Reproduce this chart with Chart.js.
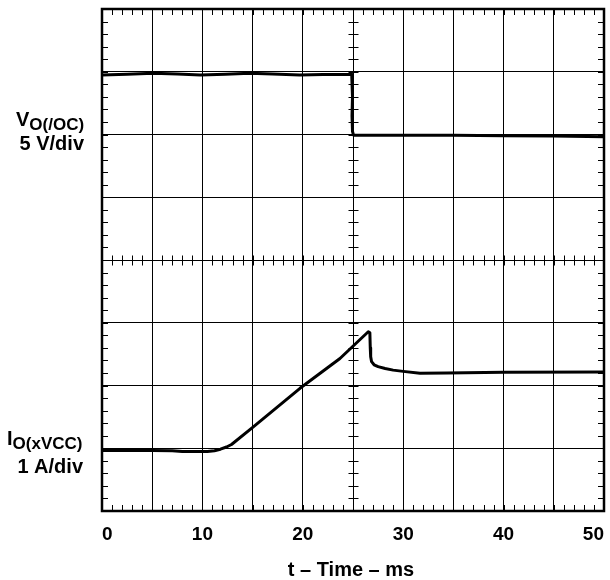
<!DOCTYPE html>
<html><head><meta charset="utf-8">
<script src="https://cdn.jsdelivr.net/npm/chart.js@4.4.1/dist/chart.umd.min.js"></script>
<style>html,body{margin:0;padding:0;background:#fff;}</style>
</head><body>
<canvas id="c" width="610" height="580"></canvas>
<script>
// x tick labels (ms)
const tickLabels = ['0', '10', '20', '30', '40', '50'];
// V_O(/OC) trace, values in screen divisions (0 = bottom, 8 = top)
const voTime = [0, 2.5, 5.1, 7.5, 9.8, 12.3, 14.7, 17, 19.7, 22, 24.6, 24.87, 24.95, 24.9, 24.95, 25.05, 26, 30, 35, 40, 45, 50];
const voDiv  = [6.95, 6.96, 6.975, 6.965, 6.948, 6.96, 6.975, 6.965, 6.95, 6.955, 6.955, 6.96, 6.6, 6.3, 6.05, 5.99, 5.99, 5.99, 5.99, 5.98, 5.975, 5.965];
// I_O(xVCC) trace, values in screen divisions
const ioTime = [0, 5, 7, 8, 10.5, 11.2, 11.8, 12.4, 12.9, 15.07, 19.72, 23.7, 26.52, 26.68, 26.72, 26.76, 26.85, 27.1, 27.5, 28.2, 29.0, 30.0, 31.67, 34.33, 40, 50];
const ioDiv  = [0.965, 0.965, 0.96, 0.95, 0.95, 0.96, 0.985, 1.02, 1.06, 1.34, 1.955, 2.43, 2.857, 2.84, 2.6, 2.46, 2.38, 2.33, 2.3, 2.27, 2.245, 2.225, 2.195, 2.2, 2.21, 2.215];

const FONT = '"Liberation Sans", Arial, sans-serif';

const toPts = (xs, ys) => xs.map((x, i) => ({x: x, y: ys[i]}));

const scopePlugin = {
  id: 'scope',
  beforeDatasetsDraw(chart) {
    const {ctx, chartArea: a, scales: {x, y}} = chart;
    ctx.save();
    ctx.strokeStyle = '#000';
    ctx.lineWidth = 1;
    const cx = Math.round(x.getPixelForValue(25)) + 0.5;
    const cy = Math.round(y.getPixelForValue(4)) + 0.5;
    ctx.beginPath();
    for (let t = 0; t <= 50; t += 1) {
      const px = Math.round(x.getPixelForValue(t)) + 0.5;
      ctx.moveTo(px, a.top); ctx.lineTo(px, a.top + 6);
      ctx.moveTo(px, a.bottom); ctx.lineTo(px, a.bottom - 6);
      ctx.moveTo(px, cy - 5); ctx.lineTo(px, cy + 5);
    }
    for (let k = 0; k <= 40; k++) {
      const py = Math.round(y.getPixelForValue(k / 5)) + 0.5;
      ctx.moveTo(a.left, py); ctx.lineTo(a.left + 6, py);
      ctx.moveTo(a.right, py); ctx.lineTo(a.right - 6, py);
      ctx.moveTo(cx - 5, py); ctx.lineTo(cx + 5, py);
    }
    ctx.stroke();
    ctx.lineWidth = 2.5;
    ctx.strokeRect(a.left, a.top, a.right - a.left, a.bottom - a.top);
    ctx.restore();
  },
  afterDraw(chart) {
    const {ctx, chartArea: a} = chart;
    ctx.save();
    ctx.fillStyle = '#000';
    ctx.textBaseline = 'alphabetic';
    // V_O(/OC)
    ctx.textAlign = 'left';
    ctx.font = 'bold 20px ' + FONT;
    ctx.fillText('V', 16, 126);
    const vw = ctx.measureText('V').width;
    ctx.font = 'bold 17px ' + FONT;
    ctx.fillText('O(/OC)', 16 + vw, 130);
    ctx.textAlign = 'right';
    ctx.font = 'bold 20px ' + FONT;
    ctx.fillText('5 V/div', 84, 150);
    // I_O(xVCC)
    ctx.textAlign = 'left';
    ctx.font = 'bold 20px ' + FONT;
    ctx.fillText('I', 7, 445);
    const iw = ctx.measureText('I').width;
    ctx.font = 'bold 17px ' + FONT;
    ctx.fillText('O(xVCC)', 7 + iw, 449);
    ctx.textAlign = 'right';
    ctx.font = 'bold 20px ' + FONT;
    ctx.fillText('1 A/div', 83, 473);
    // x title
    ctx.textAlign = 'center';
    ctx.font = 'bold 20px ' + FONT;
    ctx.fillText('t \u2013 Time \u2013 ms', (a.left + a.right) / 2 - 2, 576);
    ctx.restore();
  }
};

new Chart(document.getElementById('c'), {
  type: 'line',
  data: {
    datasets: [
      {data: toPts(voTime, voDiv), borderColor: '#000', borderWidth: 3, pointRadius: 0, tension: 0, fill: false, borderJoinStyle: 'round', borderCapStyle: 'round'},
      {data: toPts(ioTime, ioDiv), borderColor: '#000', borderWidth: 3, pointRadius: 0, tension: 0, fill: false, borderJoinStyle: 'round', borderCapStyle: 'round'}
    ]
  },
  options: {
    responsive: false,
    animation: false,
    devicePixelRatio: 1,
    layout: {padding: {left: 0, right: 6, top: 9, bottom: 0}},
    plugins: {legend: {display: false}, tooltip: {enabled: false}},
    scales: {
      x: {
        type: 'linear', min: 0, max: 50,
        border: {display: false},
        grid: {color: '#000', lineWidth: 1, drawTicks: false},
        ticks: {
          stepSize: 5, padding: 12, color: '#000', align: 'inner', maxRotation: 0,
          font: {family: FONT, size: 19, weight: 'bold'},
          callback: v => tickLabels.includes(String(v)) ? String(v) : ''
        },
        afterFit: s => { s.height = 69; s.paddingLeft = 0; s.paddingRight = 0; }
      },
      y: {
        type: 'linear', min: 0, max: 8,
        border: {display: false},
        grid: {color: '#000', lineWidth: 1, drawTicks: false},
        ticks: {stepSize: 1, display: false},
        afterFit: s => { s.width = 102; }
      }
    }
  },
  plugins: [scopePlugin]
});
</script>
</body></html>
